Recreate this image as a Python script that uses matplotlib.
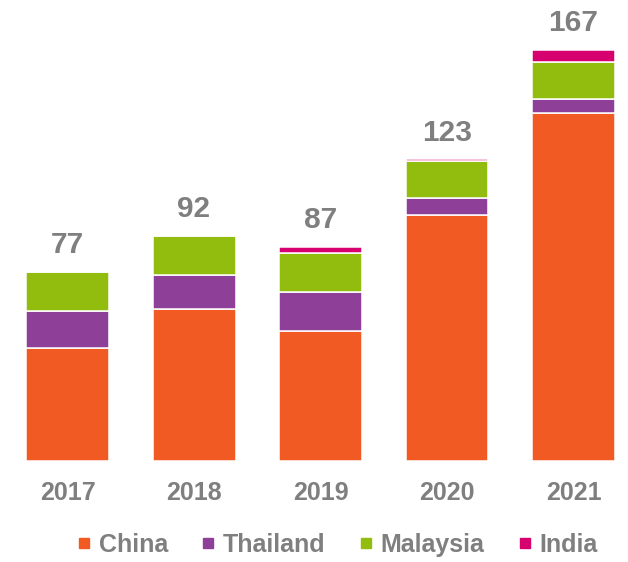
import matplotlib
matplotlib.use('Agg')
import matplotlib.pyplot as plt
from matplotlib.lines import Line2D
import numpy as np

plt.rcParams['font.family'] = ['Liberation Sans', 'DejaVu Sans']

# Data
years = ['2017', '2018', '2019', '2020', '2021']
china = [46, 62, 53, 100.5, 142]
thailand = [15, 14, 16, 7, 6]
malaysia = [16, 16, 16, 15, 15]
india = [0, 0, 2.5, 0.6, 5]
totals = [77, 92, 87, 123, 167]

series = [('China', china, '#F15A22'),
          ('Thailand', thailand, '#8E3F98'),
          ('Malaysia', malaysia, '#92BC0E'),
          ('India', india, '#D6006F')]
grey = '#7f7f7f'

fig = plt.figure(figsize=(6.28, 5.62), dpi=100)
ax = fig.add_axes([0, 101.5 / 562, 1, 460.5 / 562])

x = np.arange(len(years))
bottom = np.zeros(len(years))
for name, vals, col in series:
    vals = np.array(vals, dtype=float)
    ax.bar(x, vals, bottom=bottom, width=0.656, color=col,
           edgecolor='white', linewidth=1.1, label=name)
    bottom += vals

# total labels above bars
for xi, top, tot in zip(x, bottom, totals):
    ax.annotate(str(tot), (xi, top), xytext=(0, 13.5), textcoords='offset points',
                ha='center', va='baseline', fontsize=21.5, fontweight='bold', color=grey)

ax.set_xlim(-0.534, 4.431)
ax.set_ylim(0, 188.3)
ax.set_xticks(x)
ax.set_xticklabels(years, fontsize=18, fontweight='bold', color=grey)
ax.tick_params(axis='x', length=0, pad=15)
ax.set_yticks([])
for s in ax.spines.values():
    s.set_visible(False)
ax.patch.set_visible(False)

handles = [Line2D([], [], marker='s', linestyle='none', markersize=7.5,
                  markerfacecolor=c, markeredgecolor=c) for _, _, c in series]
fig.legend(handles, [n for n, _, _ in series], loc='center', ncol=4,
           bbox_to_anchor=(337 / 628, 1 - 545 / 562), frameon=False,
           prop={'size': 18, 'weight': 'bold'}, labelcolor=grey,
           handlelength=0.6, handletextpad=0.3, columnspacing=1.3)

plt.savefig('out.png', dpi=100)
